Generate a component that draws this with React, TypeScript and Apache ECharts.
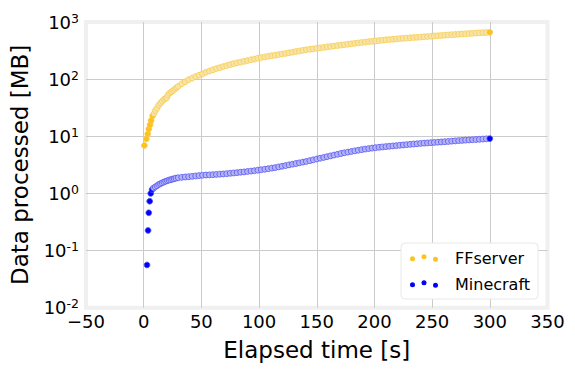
import React, { useEffect, useRef } from 'react';
import * as echarts from 'echarts';

// Elapsed time [s] for the dense, steady part of both runs
const steadyTimes = [
  30, 33, 36, 39, 42, 45, 48, 51, 54, 57,
  60, 63, 66, 69, 72, 75, 78, 81, 84, 87,
  90, 93, 96, 99, 102, 105, 108, 111, 114, 117,
  120, 123, 126, 129, 132, 135, 138, 141, 144, 147,
  150, 153, 156, 159, 162, 165, 168, 171, 174, 177,
  180, 183, 186, 189, 192, 195, 198, 201, 204, 207,
  210, 213, 216, 219, 222, 225, 228, 231, 234, 237,
  240, 243, 246, 249, 252, 255, 258, 261, 264, 267,
  270, 273, 276, 279, 282, 285, 288, 291, 294, 297,
  300,
];

// FFserver: first, well separated samples
const ffLeadTimes = [0.6, 2.3, 3.5, 4.4, 5.5, 6.4, 7.8];
const ffLeadValues = [6.9, 9.0, 11, 13.4, 15.9, 18.9, 22.9];
// FFserver: dense samples before 30 s
const ffRampTimes = [9, 10, 11.5, 13, 14.5, 16, 17.5, 19, 20, 21, 22.5, 24, 25.5, 27, 28.5];
const ffRampValues = [25, 28, 31, 35, 38, 41, 44, 46, 47, 53, 57, 60, 63, 67, 71];
// FFserver: steady part (one value per steadyTimes entry)
const ffSteadyValues = [
  75, 83, 90, 98, 104, 111, 117, 124, 132, 139,
  146, 153, 159, 166, 173, 180, 187, 193, 199, 205,
  211, 218, 225, 233, 239, 245, 251, 257, 263, 269,
  275, 282, 289, 296, 304, 311, 319, 327, 333, 339,
  345, 352, 359, 366, 373, 380, 387, 394, 401, 408,
  415, 423, 430, 438, 445, 453, 460, 467, 474, 481,
  488, 494, 500, 506, 512, 518, 523, 529, 534, 540,
  545, 551, 557, 563, 569, 575, 581, 587, 593, 599,
  605, 611, 617, 622, 628, 634, 639, 645, 650, 655,
  660,
];

// Minecraft
const mcLeadTimes = [2.9, 3.8, 4.4, 5.2, 6.1, 7.3];
const mcLeadValues = [0.056, 0.225, 0.458, 0.73, 1.0, 1.17];
const mcRampTimes = [8.5, 10, 11.5, 13, 14.5, 16, 17.5, 19, 20.5, 22, 23.5, 25, 26.5, 28];
const mcRampValues = [1.24, 1.3, 1.36, 1.43, 1.48, 1.53, 1.58, 1.63, 1.67, 1.71, 1.74, 1.78, 1.81, 1.85];
const mcSteadyValues = [
  1.88, 1.91, 1.94, 1.96, 1.99, 2.02, 2.05, 2.08, 2.10, 2.11,
  2.13, 2.15, 2.17, 2.19, 2.22, 2.25, 2.28, 2.31, 2.35, 2.38,
  2.42, 2.46, 2.50, 2.55, 2.60, 2.65, 2.71, 2.77, 2.83, 2.91,
  2.99, 3.07, 3.16, 3.25, 3.34, 3.43, 3.53, 3.63, 3.75, 3.87,
  4.0, 4.13, 4.26, 4.40, 4.54, 4.69, 4.84, 5.0, 5.14, 5.28,
  5.42, 5.56, 5.7, 5.84, 5.97, 6.09, 6.21, 6.32, 6.42, 6.51,
  6.6, 6.69, 6.78, 6.87, 6.96, 7.05, 7.14, 7.23, 7.32, 7.41,
  7.5, 7.58, 7.65, 7.73, 7.8, 7.88, 7.95, 8.03, 8.12, 8.21,
  8.3, 8.39, 8.48, 8.57, 8.64, 8.71, 8.78, 8.86, 8.94, 9.02,
  9.1,
];

const seriesNames = ['FFserver', 'Minecraft'];
const seriesColors = ['#fdc21c', '#0000ff'];
const bandColors = ['#f8e4a9', '#b3b3f6'];
const edgeColors = ['#f7cc48', '#5050f6'];

const FONT = 'DejaVu Sans';
const TEXT = '#000000';

const threeDots =
  'path://M0,4.6a2.5,2.5 0 1,0 5,0a2.5,2.5 0 1,0 -5,0Z' +
  'M11.5,2.5a2.5,2.5 0 1,0 5,0a2.5,2.5 0 1,0 -5,0Z' +
  'M23,5a2.5,2.5 0 1,0 5,0a2.5,2.5 0 1,0 -5,0Z';

function pairs(times: number[], values: number[]) {
  return times.map((t, i) => [t, values[i]]);
}

function makeSeries(k: number, lead: number[][], rest: number[][]) {
  const data = [...lead, ...rest];
  const last = data.length - 1;
  return {
    name: seriesNames[k],
    type: 'scatter',
    symbol: 'circle',
    symbolSize: 5.8,
    data,
    itemStyle: {
      // separated first samples and the final sample show their full colour;
      // the densely overlapping run in between reads as a pale band
      color: (p: any) => (p.dataIndex < lead.length || p.dataIndex === last ? seriesColors[k] : bandColors[k]),
      borderColor: edgeColors[k],
      borderWidth: 0.8,
      opacity: 1,
    },
  };
}

export default function App() {
  const ref = useRef<HTMLDivElement>(null);
  useEffect(() => {
    document.body.style.margin = '0';
    const chart = echarts.init(ref.current!, null, { renderer: 'svg' });
    const ffSeries = makeSeries(0, pairs(ffLeadTimes, ffLeadValues), [
      ...pairs(ffRampTimes, ffRampValues),
      ...pairs(steadyTimes, ffSteadyValues),
    ]);
    const mcSeries = makeSeries(1, pairs(mcLeadTimes, mcLeadValues), [
      ...pairs(mcRampTimes, mcRampValues),
      ...pairs(steadyTimes, mcSteadyValues),
    ]);
    chart.setOption({
      animation: false,
      backgroundColor: '#ffffff',
      grid: {
        left: 86,
        right: 27.5,
        top: 22,
        bottom: 65.3,
        show: true,
        backgroundColor: '#ffffff',
        borderColor: '#f0f0f0',
        borderWidth: 4,
      },
      legend: {
        left: 401,
        top: 243,
        orient: 'vertical',
        data: seriesNames.map((n, i) => ({ name: n, itemStyle: { color: seriesColors[i], borderWidth: 0 } })),
        icon: threeDots,
        itemWidth: 28,
        itemHeight: 7.5,
        itemGap: 10,
        padding: [7, 8, 7, 9],
        backgroundColor: '#ffffff',
        borderColor: '#e8e8e8',
        borderWidth: 1,
        borderRadius: 4,
        selectedMode: false,
        itemStyle: { borderWidth: 0 },
        textStyle: { fontFamily: FONT, fontSize: 16, color: TEXT, padding: [0, 0, 0, 12] },
      },
      xAxis: {
        type: 'value',
        min: -50,
        max: 350,
        interval: 50,
        axisLine: { show: false },
        axisTick: { show: false },
        splitLine: { show: true, showMinLine: false, showMaxLine: false, lineStyle: { color: '#cbcbcb', width: 1 } },
        axisLabel: {
          fontFamily: FONT,
          fontSize: 18,
          color: TEXT,
          margin: 5,
          formatter: (v: number) => (v < 0 ? '\u2212' + Math.abs(v) : String(v)),
        },
        name: 'Elapsed time [s]',
        nameLocation: 'middle',
        nameGap: 31,
        nameTextStyle: { fontFamily: FONT, fontSize: 23, color: TEXT },
      },
      yAxis: {
        type: 'log',
        logBase: 10,
        min: 0.01,
        max: 1000,
        axisLine: { show: false },
        axisTick: { show: false },
        splitLine: { show: true, showMinLine: false, showMaxLine: false, lineStyle: { color: '#cbcbcb', width: 1 } },
        axisLabel: {
          margin: 7,
          color: TEXT,
          formatter: (v: number) => {
            const e = Math.round(Math.log10(v));
            return `{b|10}{s|${e}}`;
          },
          rich: {
            b: { fontFamily: FONT, fontSize: 18, lineHeight: 20, color: TEXT },
            s: { fontFamily: FONT, fontSize: 12.5, lineHeight: 12, padding: [0, 0, 8, 0], color: TEXT },
          },
        },
        name: 'Data processed [MB]',
        nameLocation: 'middle',
        nameGap: 55,
        nameRotate: 90,
        nameTextStyle: { fontFamily: FONT, fontSize: 23, color: TEXT },
      },
      series: [ffSeries, mcSeries],
    });
    return () => chart.dispose();
  }, []);
  return <div ref={ref} style={{ width: 575, height: 373 }} />;
}
